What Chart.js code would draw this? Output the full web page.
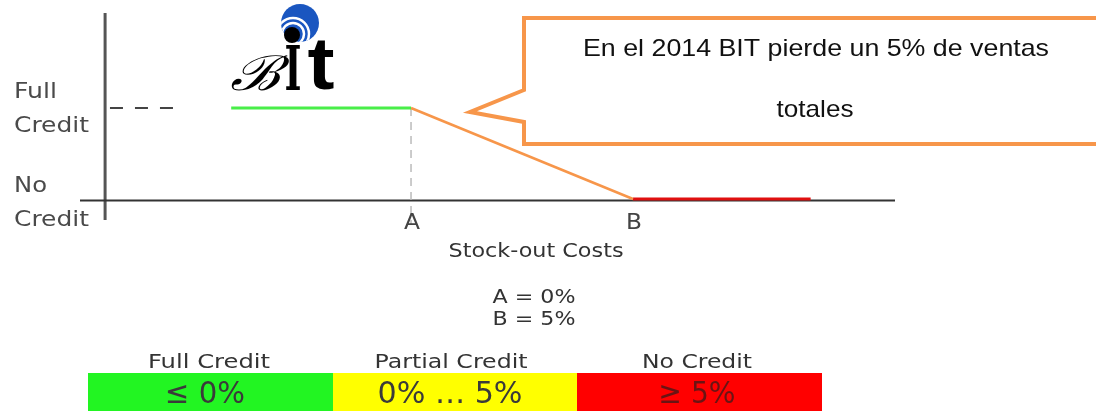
<!DOCTYPE html>
<html>
<head>
<meta charset="utf-8">
<script src="https://cdn.jsdelivr.net/npm/chart.js@4"></script>
<style>
  html, body { margin: 0; padding: 0; background: #fff; }
  canvas { display: block; }
</style>
</head>
<body>
<canvas id="creditChart" width="1096" height="411"></canvas>
<script>
// stock-out cost (%) on x, credit level on y (1 = full, 0 = none)
const tickLabels = ['A', 'B'];
const tickValues = [0, 5];
const levelLabels = [['Full', 'Credit'], ['No', 'Credit']];
const levelValues = [1, 0];

const fullCreditX = [-4.05, 0];
const fullCreditY = [1, 1];
const partialX = [0, 5];
const partialY = [1, 0];
const noCreditX = [5, 9];
const noCreditY = [0, 0];
const refDashX = [-6.78, -5.13];
const refDashY = [1, 1];

const axisTitle = 'Stock-out Costs';
const legendLines = ['A = 0%', 'B = 5%'];
const rangeHeaders = ['Full Credit', 'Partial Credit', 'No Credit'];
const rangeValues = ['≤ 0%', '0% … 5%', '≥ 5%'];
const rangeColors = ['#22f522', '#ffff00', '#ff0000'];
const calloutLines = ['En el 2014 BIT pierde un 5% de ventas', 'totales'];

const pts = (xs, ys) => xs.map((x, i) => ({ x: x, y: ys[i] }));

// draws text squeezed/stretched to a given width
function fitText(ctx, text, x, y, w, align) {
  const m = ctx.measureText(text).width;
  const s = w / m;
  ctx.save();
  ctx.translate(align === 'center' ? x - w / 2 : x, y);
  ctx.scale(s, 1);
  ctx.textAlign = 'left';
  ctx.fillText(text, 0, 0);
  ctx.restore();
}

const diagramPlugin = {
  id: 'diagram',
  beforeDatasetsDraw(chart) {
    const ctx = chart.ctx;
    const xs = chart.scales.x, ys = chart.scales.y;
    ctx.save();
    // y axis
    ctx.strokeStyle = '#555';
    ctx.lineWidth = 3;
    ctx.beginPath();
    ctx.moveTo(xs.getPixelForValue(-6.89), 13);
    ctx.lineTo(xs.getPixelForValue(-6.89), 220);
    ctx.stroke();
    // x axis
    ctx.strokeStyle = '#333';
    ctx.lineWidth = 2;
    ctx.beginPath();
    ctx.moveTo(80, ys.getPixelForValue(0) + 1.5);
    ctx.lineTo(895, ys.getPixelForValue(0) + 1.5);
    ctx.stroke();
    // vertical dashed guide at A
    ctx.strokeStyle = '#bbb';
    ctx.lineWidth = 1.5;
    ctx.setLineDash([8, 6]);
    ctx.beginPath();
    ctx.moveTo(xs.getPixelForValue(tickValues[0]), ys.getPixelForValue(1));
    ctx.lineTo(xs.getPixelForValue(tickValues[0]), 224);
    ctx.stroke();
    ctx.restore();
  },
  afterDraw(chart) {
    const ctx = chart.ctx;
    const xs = chart.scales.x, ys = chart.scales.y;
    ctx.save();
    ctx.textBaseline = 'alphabetic';

    // level labels on the left
    ctx.fillStyle = '#4a4a4a';
    ctx.font = '21px "DejaVu Sans"';
    levelLabels.forEach((lines, i) => {
      const py = ys.getPixelForValue(levelValues[i]);
      const off = i === 0 ? 0 : 3;
      fitText(ctx, lines[0], 14, py - 10 + off, lines[0] === 'Full' ? 43 : 33, 'left');
      fitText(ctx, lines[1], 14, py + 24 + off, 75, 'left');
    });

    // tick labels A, B
    ctx.font = '21px "DejaVu Sans"';
    ctx.fillStyle = '#444';
    tickLabels.forEach((t, i) => {
      fitText(ctx, t, xs.getPixelForValue(tickValues[i]) + 1, 229, 16, 'center');
    });

    // axis title and legend
    ctx.font = '19px "DejaVu Sans"';
    ctx.fillStyle = '#333';
    fitText(ctx, axisTitle, 536, 257, 175, 'center');
    legendLines.forEach((t, i) => fitText(ctx, t, 534, 303 + i * 22, 83, 'center'));

    // range table
    const cols = [88, 333, 577, 822];
    ctx.font = '20px "DejaVu Sans"';
    ctx.fillStyle = '#333';
    const headerW = [122, 153, 110];
    const headerC = [209, 451, 697];
    rangeHeaders.forEach((h, i) => {
      fitText(ctx, h, headerC[i], 368, headerW[i], 'center');
    });
    rangeColors.forEach((c, i) => {
      ctx.fillStyle = c;
      ctx.fillRect(cols[i], 373, cols[i + 1] - cols[i], 40);
    });
    ctx.font = '31px "DejaVu Sans"';
    const valW = [80, 145, 77];
    const valC = [205, 450, 697];
    rangeValues.forEach((v, i) => {
      ctx.fillStyle = i === 2 ? '#6a1414' : '#3a3a3a';
      fitText(ctx, v, valC[i], 403, valW[i], 'center');
    });

    // callout box
    ctx.fillStyle = '#fff';
    ctx.strokeStyle = '#f7964a';
    ctx.lineWidth = 4;
    ctx.lineJoin = 'miter';
    ctx.beginPath();
    ctx.moveTo(524, 18);
    ctx.lineTo(1110, 18);
    ctx.lineTo(1110, 144);
    ctx.lineTo(524, 144);
    ctx.lineTo(524, 122);
    ctx.lineTo(470, 112);
    ctx.lineTo(524, 90);
    ctx.closePath();
    ctx.fill();
    ctx.stroke();
    ctx.fillStyle = '#111';
    ctx.font = '24px "Liberation Sans"';
    fitText(ctx, calloutLines[0], 816, 56, 466, 'center');
    fitText(ctx, calloutLines[1], 815, 117, 77, 'center');

    // BIT logo
    ctx.save();
    ctx.fillStyle = '#1a56c0';
    ctx.beginPath();
    ctx.arc(300, 23, 19, 0, Math.PI * 2);
    ctx.fill();
    ctx.clip();
    ctx.strokeStyle = '#fff';
    ctx.lineWidth = 2.5;
    [11, 16].forEach(r => {
      ctx.beginPath();
      ctx.arc(293, 34, r, 0, Math.PI * 2);
      ctx.stroke();
    });
    ctx.restore();
    ctx.fillStyle = '#000';
    ctx.beginPath();
    ctx.arc(292, 35, 8, 0, Math.PI * 2);
    ctx.fill();
    ctx.font = 'italic 48px "DejaVu Serif"';
    fitText(ctx, 'ℬ', 255, 90, 50, 'center');
    ctx.font = 'bold 62px "DejaVu Serif"';
    fitText(ctx, 'I', 293, 90, 17, 'center');
    ctx.font = 'bold 74px "Liberation Sans"';
    fitText(ctx, 't', 321, 89, 27, 'center');

    ctx.restore();
  }
};

new Chart(document.getElementById('creditChart').getContext('2d'), {
  type: 'line',
  data: {
    datasets: [
      { label: 'Full Credit', data: pts(fullCreditX, fullCreditY), borderColor: '#49ee49', borderWidth: 3 },
      { label: 'Partial Credit', data: pts(partialX, partialY), borderColor: '#f7964a', borderWidth: 2.5 },
      { label: 'No Credit', data: pts(noCreditX, noCreditY), borderColor: '#e01010', borderWidth: 3 },
      { label: 'ref', data: pts(refDashX, refDashY), borderColor: '#444', borderWidth: 2, borderDash: [13, 12] }
    ]
  },
  options: {
    responsive: false,
    animation: false,
    devicePixelRatio: 1,
    layout: { padding: { left: 80, right: 201, top: 108, bottom: 212 } },
    elements: { point: { radius: 0 }, line: { tension: 0 } },
    datasets: { line: { clip: false } },
    scales: {
      x: { type: 'linear', min: -7.455, max: 10.9, display: false },
      y: { min: 0, max: 1, display: false }
    },
    plugins: { legend: { display: false }, tooltip: { enabled: false } }
  },
  plugins: [diagramPlugin]
});
</script>
</body>
</html>
